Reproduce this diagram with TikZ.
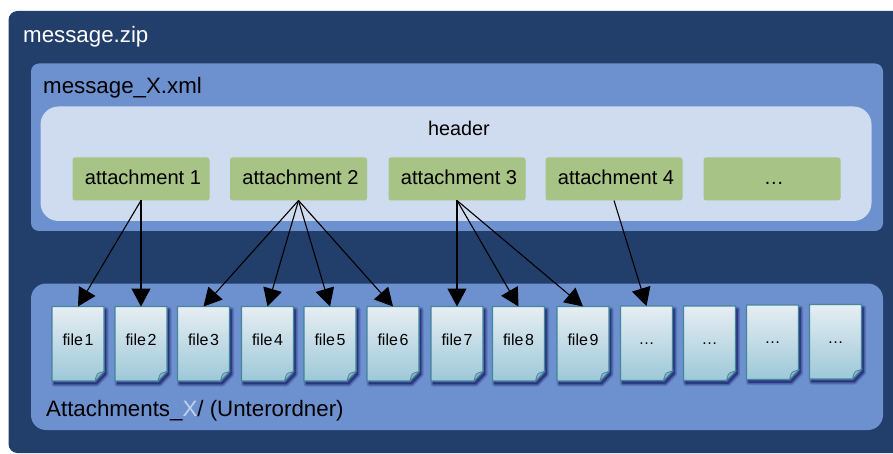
\documentclass[tikz,border=0pt]{standalone}
\usepackage{fontspec}
\setmainfont{Liberation Sans}
\usetikzlibrary{arrows.meta}
\definecolor{zipblue}{HTML}{223E6A}
\definecolor{xmlblue}{HTML}{6D90CE}
\definecolor{headerblue}{HTML}{CFDBEF}
\definecolor{attgreen}{HTML}{A7C385}
\definecolor{pageedge}{HTML}{44869C}
\definecolor{pagetop}{HTML}{E6EEF3}
\definecolor{pagemid}{HTML}{CFE2E9}
\definecolor{pagebottom}{HTML}{9DC8D8}
\definecolor{pagefold}{HTML}{8FB8C6}
\definecolor{xlight}{HTML}{C5D2EC}
\tikzset{
  container/.style={anchor=north west, inner sep=0pt, outer sep=0pt},
  biglabel/.style={anchor=base west, inner sep=0pt, font=\fontsize{22.3}{26}\selectfont},
  attbox/.style={fill=attgreen, rounded corners=2.5pt, anchor=north west, inner sep=0pt, outer sep=0pt,
    minimum width=137pt, text height=27pt, text depth=16pt, font=\fontsize{20.1}{24}\selectfont,
    execute at begin node={\hspace*{4pt}}},
  filebox/.style={inner sep=0pt, outer sep=0pt, minimum width=52pt, text height=38.5pt, text depth=36pt,
    font=\fontsize{16}{20}\selectfont},
  pageshadow/.style={fill=black!70!blue, draw=black!70!blue, opacity=.16, line join=round},
  link/.style={line width=1.1pt, -{Triangle[length=18pt,width=19pt]}}
}
\newcommand{\pageoutline}{(0,0) -- (52,0) -- (52,65) -- (43,74.5) -- (0,74.5) -- cycle}
\newcommand{\filepage}[4]{
  \begin{scope}[shift={(#2,#3)}]
    \path[pageshadow, line width=5pt] [shift={(2,3)}] \pageoutline;
    \path[pageshadow, line width=3pt] [shift={(2,3)}] \pageoutline;
    \path[pageshadow, line width=1pt] [shift={(2,3)}] \pageoutline;
    \draw[pageedge, line width=1.2pt, line join=round, top color=pagetop, middle color=pagemid, bottom color=pagebottom] \pageoutline;
    \draw[pageedge, line width=.8pt, fill=pagefold] (43,74.5) .. controls (44,70) and (45,67) .. (47,66.5) -- (52,65) -- cycle;
    \node[filebox] (#1) at (26,37.25) {#4};
  \end{scope}
}
\begin{document}
\begin{tikzpicture}[x=1pt,y=-1pt]
  \useasboundingbox (0,0) rectangle (893,454);
  \clip (0,0) rectangle (893,454);
  % containers
  \node[container, fill=zipblue, rounded corners=9pt, minimum width=900pt, minimum height=442pt] (zip) at (8.5,11) {};
  \node[container, fill=xmlblue, rounded corners=8pt, minimum width=852pt, minimum height=167.5pt] (xml) at (31,63.5) {};
  \node[container, fill=headerblue, rounded corners=18pt, minimum width=831pt, minimum height=114.5pt] (header) at (40.5,106.5) {};
  \node[container, fill=xmlblue, rounded corners=15pt, minimum width=852pt, minimum height=146.5pt] (folder) at (31,283.5) {};
  % labels
  \node[biglabel, text=white] (ziplabel) at (23,43) {message.zip};
  \node[biglabel] (xmllabel) at (43,94) {message\_X.xml};
  \node[anchor=base, inner sep=0pt, font=\fontsize{19.8}{24}\selectfont] (headerlabel) at (459,136) {header};
  \node[biglabel] (folderlabel) at (46,416) {Attachments\_\textcolor{xlight}{X}/ (Unterordner)};
  % attachments
  \node[attbox] (att1) at (72.5,157.5) {attachment 1};
  \node[attbox] (att2) at (230,157.5) {attachment 2};
  \node[attbox] (att3) at (388.5,157.5) {attachment 3};
  \node[attbox] (att4) at (545.5,157.5) {attachment 4};
  \node[attbox] (att5) at (703.5,157.5) {…};
  % files
  \filepage{file1}{52}{306.5}{file\hspace{.1em}1}
  \filepage{file2}{115}{306.5}{file\hspace{.1em}2}
  \filepage{file3}{177.5}{306.5}{file\hspace{.1em}3}
  \filepage{file4}{241.5}{306.5}{file\hspace{.1em}4}
  \filepage{file5}{304}{306.5}{file\hspace{.1em}5}
  \filepage{file6}{367}{306.5}{file\hspace{.1em}6}
  \filepage{file7}{431}{306.5}{file\hspace{.1em}7}
  \filepage{file8}{492.5}{306.5}{file\hspace{.1em}8}
  \filepage{file9}{557}{306.5}{file\hspace{.1em}9}
  \filepage{file10}{620.5}{306}{…}
  \filepage{file11}{683.5}{306}{…}
  \filepage{file12}{746.5}{305}{…}
  \filepage{file13}{809.5}{304.5}{…}
  % links
  \draw[link] (att1.south) -- (file1.north);
  \draw[link] (att1.south) -- (file2.north);
  \draw[link] (att2.south) -- (file3.north);
  \draw[link] (att2.south) -- (file4.north);
  \draw[link] (att2.south) -- (file5.north);
  \draw[link] (att2.south) -- (file6.north);
  \draw[link] (att3.south) -- (file7.north);
  \draw[link] (att3.south) -- (file8.north);
  \draw[link] (att3.south) -- (file9.north);
  \draw[link] (att4.south) -- (file10.north);
\end{tikzpicture}
\end{document}
